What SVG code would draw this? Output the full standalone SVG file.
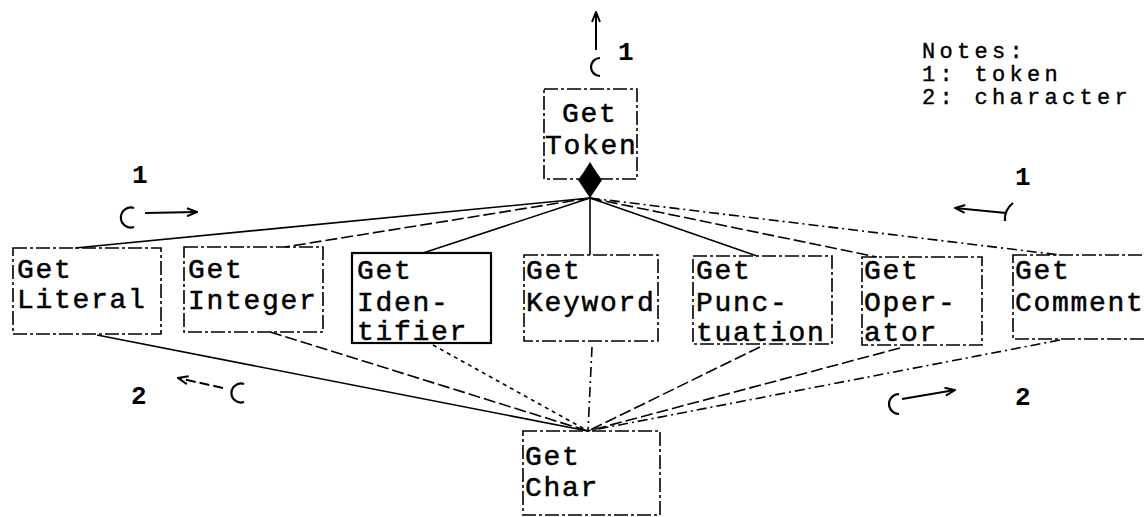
<svg xmlns="http://www.w3.org/2000/svg" width="1145" height="517" viewBox="0 0 1145 517">
  <defs>
    <style>
      .lbl { font-family: "Liberation Mono", "Courier New", monospace; font-size: 28px; letter-spacing: 1.7px; fill: #000; stroke: #000; stroke-width: 0.5; }
      .num { font-family: "Liberation Mono", "Courier New", monospace; font-size: 26px; font-weight: bold; fill: #000; }
      .note { font-family: "Liberation Mono", "Courier New", monospace; font-size: 22px; letter-spacing: 4.3px; fill: #000; stroke: #000; stroke-width: 0.4; }
      .box { fill: none; stroke: #000; stroke-width: 1.6; stroke-dasharray: 14 3 3 3; }
      .box-solid { fill: none; stroke: #000; stroke-width: 2.2; }
      .edge { fill: none; stroke: #000; stroke-width: 1.6; }
      .dash { stroke-dasharray: 12 4; }
      .dashdot { stroke-dasharray: 10 4 2 4; }
      .dot { stroke-dasharray: 4 4; }
      .couple { fill: none; stroke: #000; stroke-width: 2.2; }
      .flow { fill: none; stroke: #000; stroke-width: 2; }
    </style>
    <marker id="head" viewBox="0 0 12 10" refX="11" refY="5" markerWidth="12" markerHeight="10" markerUnits="userSpaceOnUse" orient="auto">
      <path d="M1,1 L11,5 L1,9" fill="none" stroke="#000" stroke-width="2"/>
    </marker>
  </defs>

  <!-- connectors: call structure from Get Token down to the scanners, and on to Get Char -->
  <g id="connectors">
    <path class="edge" d="M590,198 L75,248"/>
    <path class="edge dash" d="M590,198 L285,247"/>
    <path class="edge" d="M590,198 L423,253"/>
    <path class="edge" d="M590,198 L590,255"/>
    <path class="edge" d="M590,198 L757,256"/>
    <path class="edge dash" d="M590,198 L877,257"/>
    <path class="edge dashdot" d="M590,198 L1060,255"/>

    <path class="edge" d="M97,335 L588,431"/>
    <path class="edge dash" d="M270,332 L588,431"/>
    <path class="edge dot" d="M433,345 L588,431"/>
    <path class="edge dashdot" d="M592,347 L588,431"/>
    <path class="edge dash" d="M760,347 L588,431"/>
    <path class="edge dash" d="M900,348 L588,431"/>
    <path class="edge dashdot" d="M1060,340 L588,431"/>

    <!-- fork diamond under Get Token -->
    <path d="M590,162 Q596,172 602,180 Q596,189 590,198 Q584,189 578,180 Q584,172 590,162 Z" fill="#000"/>
  </g>

  <!-- data couples -->
  <g id="couples">
    <path class="flow" d="M596,50 L596,12" marker-end="url(#head)"/>
    <path class="couple" d="M600,58 A9,9 0 1 0 600,76"/>
    <text class="num" x="618" y="60">1</text>

    <path class="couple" d="M134,208 A10,10 0 1 0 134,227"/>
    <path class="flow" d="M145,213 L197,212" marker-end="url(#head)"/>
    <text class="num" x="132" y="183">1</text>

    <path class="flow" d="M1006,213 L955,208" marker-end="url(#head)"/>
    <path class="couple" d="M1013,203 Q1004,210 1005,221"/>
    <text class="num" x="1015" y="185">1</text>

    <path class="flow" d="M223,388 L178,378" marker-end="url(#head)" stroke-dasharray="10 4"/>
    <path class="couple" d="M244,384 A9.5,9.5 0 1 0 244,402"/>
    <text class="num" x="131" y="404">2</text>

    <path class="couple" d="M899,394 A10,10 0 1 0 899,414"/>
    <path class="flow" d="M902,399 L955,390" marker-end="url(#head)"/>
    <text class="num" x="1015" y="405">2</text>
  </g>

  <g id="notes">
    <text class="note" x="922" y="58">Notes:</text>
    <text class="note" x="922" y="81">1: token</text>
    <text class="note" x="922" y="104">2: character</text>
  </g>

  <g id="get-token">
    <rect class="box" x="544" y="89" width="93" height="90"/>
    <text class="lbl" x="562" y="122">Get</text>
    <text class="lbl" x="545" y="154">Token</text>
  </g>

  <g id="get-literal">
    <rect class="box" x="13" y="248" width="148" height="86"/>
    <text class="lbl" x="17" y="278">Get</text>
    <text class="lbl" x="17" y="308">Literal</text>
  </g>

  <g id="get-integer">
    <rect class="box" x="184" y="247" width="139" height="85"/>
    <text class="lbl" x="188" y="278">Get</text>
    <text class="lbl" x="188" y="309">Integer</text>
  </g>

  <g id="get-identifier">
    <rect class="box-solid" x="352" y="253" width="139" height="90"/>
    <text class="lbl" x="357" y="279">Get</text>
    <text class="lbl" x="357" y="311">Iden-</text>
    <text class="lbl" x="357" y="340">tifier</text>
  </g>

  <g id="get-keyword">
    <rect class="box" x="524" y="255" width="134" height="86"/>
    <text class="lbl" x="526" y="279">Get</text>
    <text class="lbl" x="526" y="311">Keyword</text>
  </g>

  <g id="get-punctuation">
    <rect class="box" x="693" y="256" width="139" height="88"/>
    <text class="lbl" x="696" y="279">Get</text>
    <text class="lbl" x="696" y="311">Punc-</text>
    <text class="lbl" x="696" y="341">tuation</text>
  </g>

  <g id="get-operator">
    <rect class="box" x="862" y="257" width="120" height="88"/>
    <text class="lbl" x="864" y="279">Get</text>
    <text class="lbl" x="864" y="311">Oper-</text>
    <text class="lbl" x="864" y="341">ator</text>
  </g>

  <g id="get-comment">
    <rect class="box" x="1013" y="255" width="150" height="84"/>
    <text class="lbl" x="1015" y="279">Get</text>
    <text class="lbl" x="1015" y="311">Comment</text>
  </g>

  <g id="get-char">
    <rect class="box" x="523" y="431" width="137" height="84"/>
    <text class="lbl" x="525" y="465">Get</text>
    <text class="lbl" x="525" y="496">Char</text>
  </g>
</svg>
